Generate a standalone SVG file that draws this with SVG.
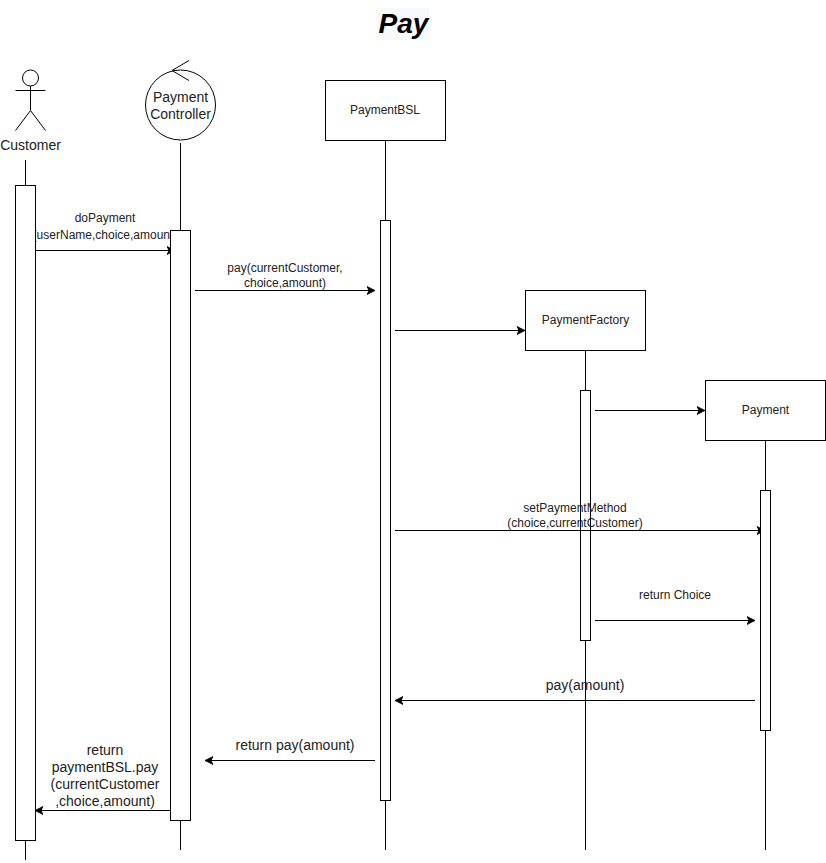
<svg xmlns="http://www.w3.org/2000/svg" width="826" height="863" viewBox="0 0 826 863">
<style>
.s{fill:none;stroke:#000;stroke-width:1}
.b{fill:#fff;stroke:#000;stroke-width:1}
.l{fill:none;stroke:#000;stroke-width:1}
.c{fill:none;stroke:#000;stroke-width:1;marker-end:url(#head)}
text{font-family:"Liberation Sans",Arial,sans-serif;fill:#222;text-anchor:middle}
.t12{font-size:12px}
.t14{font-size:14px}
</style>
<defs>
<marker id="head" markerUnits="userSpaceOnUse" markerWidth="10" markerHeight="10" refX="8" refY="5" orient="auto">
<path d="M8 5L0 1L2 5L0 9Z" fill="#000" stroke="#000" stroke-width="0.8"/>
</marker>
</defs>
<rect x="377" y="8" width="52" height="32" fill="#f8f9fa"/>
<text id="title" x="403.500" y="33" style="font-size:28px;font-weight:bold;font-style:italic;fill:#000">Pay</text>

<g id="paymentbsl">
<line class="l" x1="385.500" y1="140" x2="385.500" y2="850"/>
<rect class="b" x="325.500" y="80.500" width="120" height="60"/>
<text class="t12" x="385" y="114">PaymentBSL</text>
<rect class="b" x="380.500" y="220.500" width="10" height="580"/>
</g>
<g id="paymentfactory">
<line class="l" x1="585.500" y1="350" x2="585.500" y2="850"/>
<rect class="b" x="525.500" y="290.500" width="120" height="60"/>
<text class="t12" x="585.500" y="324">PaymentFactory</text>
<rect class="b" x="580.500" y="390.500" width="10" height="250"/>
</g>

<g id="connectors">
<line class="c" x1="35" y1="250.500" x2="175" y2="250.500"/>
<text class="t12" x="105" y="222">doPayment</text>
<text class="t12" x="105" y="239">(userName,choice,amount)</text>
<line class="c" x1="195" y1="290.500" x2="375" y2="290.500"/>
<text class="t12" x="285" y="272">pay(currentCustomer,</text>
<text class="t12" x="285" y="287">choice,amount)</text>
<line class="c" x1="395" y1="330.500" x2="525" y2="330.500"/>
<line class="c" x1="595" y1="410.500" x2="705" y2="410.500"/>
<line class="c" x1="395" y1="530.500" x2="765" y2="530.500"/>
<text class="t12" x="575" y="512">setPaymentMethod</text>
<text class="t12" x="575" y="527">(choice,currentCustomer)</text>
<line class="c" x1="595" y1="620.500" x2="755" y2="620.500"/>
<text class="t12" x="675" y="599">return Choice</text>
<line class="c" x1="755" y1="700.500" x2="395" y2="700.500"/>
<text class="t14" x="585" y="690">pay(amount)</text>
<line class="c" x1="375" y1="760.500" x2="205" y2="760.500"/>
<text class="t14" x="295" y="750">return pay(amount)</text>
<line class="c" x1="170" y1="810.500" x2="35" y2="810.500"/>
<text class="t14" x="105" y="755">return</text>
<text class="t14" x="105" y="772">paymentBSL.pay</text>
<text class="t14" x="105" y="789">(currentCustomer</text>
<text class="t14" x="105" y="806">,choice,amount)</text>
</g>

<g id="customer">
<circle class="b" cx="30.500" cy="78" r="8"/>
<path class="s" d="M30.500 86V110.500M15.500 90.500H45.500M30.500 110.500L15.500 130.500M30.500 110.500L45.500 130.500"/>
<text class="t14" x="30.500" y="150">Customer</text>
<line class="l" x1="25.500" y1="160" x2="25.500" y2="860"/>
<rect class="b" x="15.500" y="185.500" width="20" height="655"/>
</g>
<g id="paymentcontroller">
<line class="l" x1="180.500" y1="143" x2="180.500" y2="850"/>
<circle class="b" cx="180.500" cy="105" r="35"/>
<path class="s" d="M189 60.500L172 70.500L189 80.500"/>
<text class="t14" x="180.500" y="102">Payment</text>
<text class="t14" x="180.500" y="119">Controller</text>
<rect class="b" x="170.500" y="230.500" width="20" height="590"/>
</g>
<g id="payment">
<line class="l" x1="765.500" y1="440" x2="765.500" y2="850"/>
<rect class="b" x="705.500" y="380.500" width="120" height="60"/>
<text class="t12" x="765.500" y="414">Payment</text>
<rect class="b" x="760.500" y="490.500" width="10" height="240"/>
</g>
</svg>
